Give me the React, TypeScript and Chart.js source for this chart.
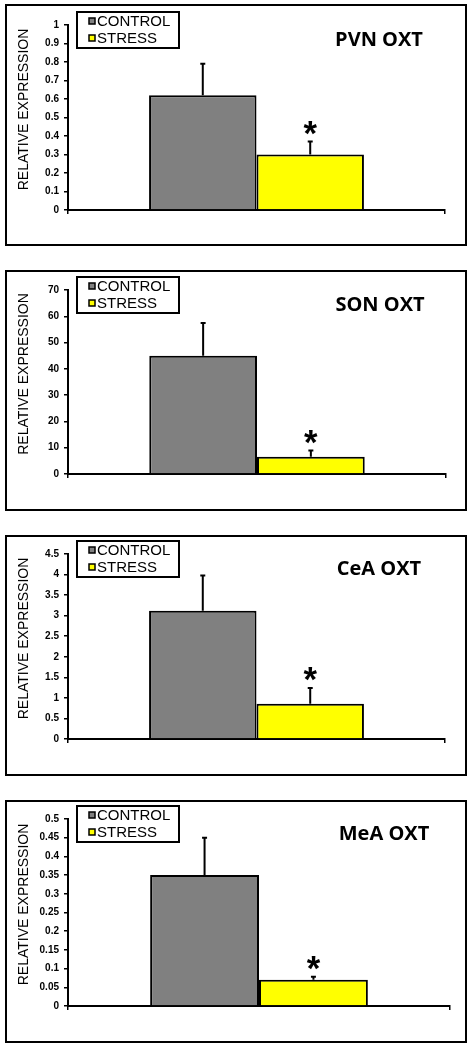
import React, { useEffect, useRef } from "react";
import { Chart, registerables } from "chart.js";

Chart.register(...registerables);

// ---- data ----
const regions = ["PVN OXT", "SON OXT", "CeA OXT", "MeA OXT"];
const seriesLabels = ["CONTROL", "STRESS"];
const controlMeans = [0.62, 45, 3.12, 0.35];
const controlSEM = [0.17, 12.4, 0.86, 0.1];
const stressMeans = [0.3, 6.6, 0.86, 0.07];
const stressSEM = [0.07, 2.3, 0.38, 0.008];
const yMax = [1, 70, 4.5, 0.5];
const yStep = [0.1, 10, 0.5, 0.05];
const yTitle = "RELATIVE EXPRESSION";

// ---- layout (page pixels) ----
const FRAME_TOP = [4, 270, 535, 800];
const FRAME_H = [242, 241, 241, 243];
const PLOT_TOP = [25, 290, 554, 819];
const PLOT_BOTTOM = [210, 474, 739, 1006];
const PLOT_RIGHT = [445, 446, 445, 450];
const PAGE_W = 476;
const Y_AXIS_W = 68;

const ARIAL = "'Liberation Sans', Arial, sans-serif";

const decorPlugin = {
  id: "panelDecor",
  afterDatasetsDraw(chart: any) {
    const { ctx } = chart;
    const ys = chart.scales.y;
    chart.data.datasets.forEach((ds: any, di: number) => {
      const meta = chart.getDatasetMeta(di);
      meta.data.forEach((bar: any, i: number) => {
        const v = ds.data[i];
        const e = ds.errors[i];
        const x = bar.x;
        const yTop = ys.getPixelForValue(v);
        const yErr = ys.getPixelForValue(v + e);
        ctx.save();
        ctx.strokeStyle = "#000";
        ctx.lineWidth = 2;
        ctx.beginPath();
        ctx.moveTo(x, yTop);
        ctx.lineTo(x, yErr);
        ctx.moveTo(x - 2.5, yErr);
        ctx.lineTo(x + 2.5, yErr);
        ctx.stroke();
        if (ds.significant) {
          // asterisk sized to ~13px glyph height, centred 14px above error cap
          ctx.font = `bold 36px ${ARIAL}`;
          const m = ctx.measureText("*");
          const h = m.actualBoundingBoxAscent + m.actualBoundingBoxDescent;
          const size = h > 0 ? (36 * 13.5) / h : 36;
          ctx.font = `bold ${size}px ${ARIAL}`;
          const m2 = ctx.measureText("*");
          const cy = yErr - 14;
          const base = cy - (m2.actualBoundingBoxDescent - m2.actualBoundingBoxAscent) / 2;
          ctx.fillStyle = "#000";
          ctx.textAlign = "center";
          ctx.textBaseline = "alphabetic";
          ctx.fillText("*", x, base);
        }
        ctx.restore();
      });
    });
  },
  afterDraw(chart: any, _args: any, opts: any) {
    const { ctx, chartArea: a } = chart;
    // y axis title
    ctx.save();
    ctx.translate(22.5, (a.top + a.bottom) / 2 - 8);
    ctx.rotate(-Math.PI / 2);
    ctx.font = `14px ${ARIAL}`;
    ctx.fillStyle = "#000";
    ctx.textAlign = "center";
    ctx.textBaseline = "alphabetic";
    ctx.fillText(opts.yTitle, 0, 5);
    ctx.restore();

    // legend box
    const lx = a.left + 9;
    const ly = a.top - 13;
    ctx.save();
    ctx.fillStyle = "#fff";
    ctx.fillRect(lx, ly, 102, 36);
    ctx.lineWidth = 2;
    ctx.strokeStyle = "#000";
    ctx.strokeRect(lx, ly, 102, 36);
    chart.data.datasets.forEach((ds: any, i: number) => {
      const cy = ly + 9 + i * 17;
      ctx.fillStyle = ds.backgroundColor;
      ctx.fillRect(lx + 12, cy - 3, 6, 6);
      ctx.lineWidth = 1.5;
      ctx.strokeRect(lx + 12, cy - 3, 6, 6);
      ctx.fillStyle = "#000";
      ctx.font = `15px ${ARIAL}`;
      ctx.textAlign = "left";
      ctx.textBaseline = "alphabetic";
      ctx.fillText(ds.label, lx + 20, cy + 5.4);
    });

    // panel title
    ctx.font = "bold 20px 'Open Sans', sans-serif";
    ctx.fillStyle = "#000";
    ctx.textAlign = "center";
    ctx.textBaseline = "alphabetic";
    ctx.fillText(opts.title, a.right - 66, a.top + 21);
    ctx.restore();
  },
};

function Panel({ idx }: { idx: number }) {
  const ref = useRef<HTMLCanvasElement | null>(null);
  const top = FRAME_TOP[idx];
  const h = FRAME_H[idx];

  useEffect(() => {
    if (!ref.current) return;
    const chart = new Chart(ref.current, {
      type: "bar",
      data: {
        labels: [regions[idx]],
        datasets: [
          {
            label: seriesLabels[0],
            data: [controlMeans[idx]],
            errors: [controlSEM[idx]],
            significant: false,
            backgroundColor: "#808080",
            borderColor: "#000",
            borderWidth: 2,
          } as any,
          {
            label: seriesLabels[1],
            data: [stressMeans[idx]],
            errors: [stressSEM[idx]],
            significant: true,
            backgroundColor: "#ffff00",
            borderColor: "#000",
            borderWidth: 2,
          } as any,
        ],
      },
      options: {
        animation: false,
        responsive: false,
        devicePixelRatio: 1,
        events: [],
        layout: {
          padding: {
            left: 0,
            top: PLOT_TOP[idx] - top,
            right: PAGE_W - PLOT_RIGHT[idx],
            bottom: 0,
          },
        },
        datasets: { bar: { categoryPercentage: 0.57, barPercentage: 1 } },
        plugins: {
          legend: { display: false },
          tooltip: { enabled: false },
          title: { display: false },
          panelDecor: { title: regions[idx], yTitle },
        } as any,
        scales: {
          x: {
            ticks: { display: false },
            grid: {
              display: true,
              drawOnChartArea: false,
              drawTicks: true,
              tickLength: 4,
              color: "#000",
              lineWidth: 1.5,
              offset: true,
            },
            border: { color: "#000", width: 2 },
            afterFit: (s: any) => {
              s.height = top + h - PLOT_BOTTOM[idx];
            },
          },
          y: {
            min: 0,
            max: yMax[idx],
            ticks: {
              stepSize: yStep[idx],
              color: "#000",
              padding: 5,
              font: { family: ARIAL, size: 10, weight: "bold" },
              callback: (v: any) => String(Math.round(Number(v) * 1000) / 1000),
            },
            grid: {
              drawOnChartArea: false,
              drawTicks: true,
              tickLength: 4,
              color: "#000",
              lineWidth: 1.5,
            },
            border: { color: "#000", width: 2 },
            afterFit: (s: any) => {
              s.width = Y_AXIS_W;
            },
          },
        },
      },
      plugins: [decorPlugin as any],
    });
    return () => chart.destroy();
  }, [idx]);

  return (
    <div style={{ position: "absolute", left: 0, top, width: PAGE_W, height: h }}>
      <div
        style={{
          position: "absolute",
          left: 5,
          top: 0,
          width: 462,
          height: h,
          border: "2px solid #000",
          boxSizing: "border-box",
        }}
      />
      <canvas
        ref={ref}
        width={PAGE_W}
        height={h}
        style={{ position: "absolute", left: 0, top: 0, width: PAGE_W, height: h }}
      />
    </div>
  );
}

export default function App() {
  return (
    <div style={{ position: "absolute", left: 0, top: 0, width: PAGE_W, height: 1050, background: "#fff" }}>
      {regions.map((_, i) => (
        <Panel key={i} idx={i} />
      ))}
    </div>
  );
}
